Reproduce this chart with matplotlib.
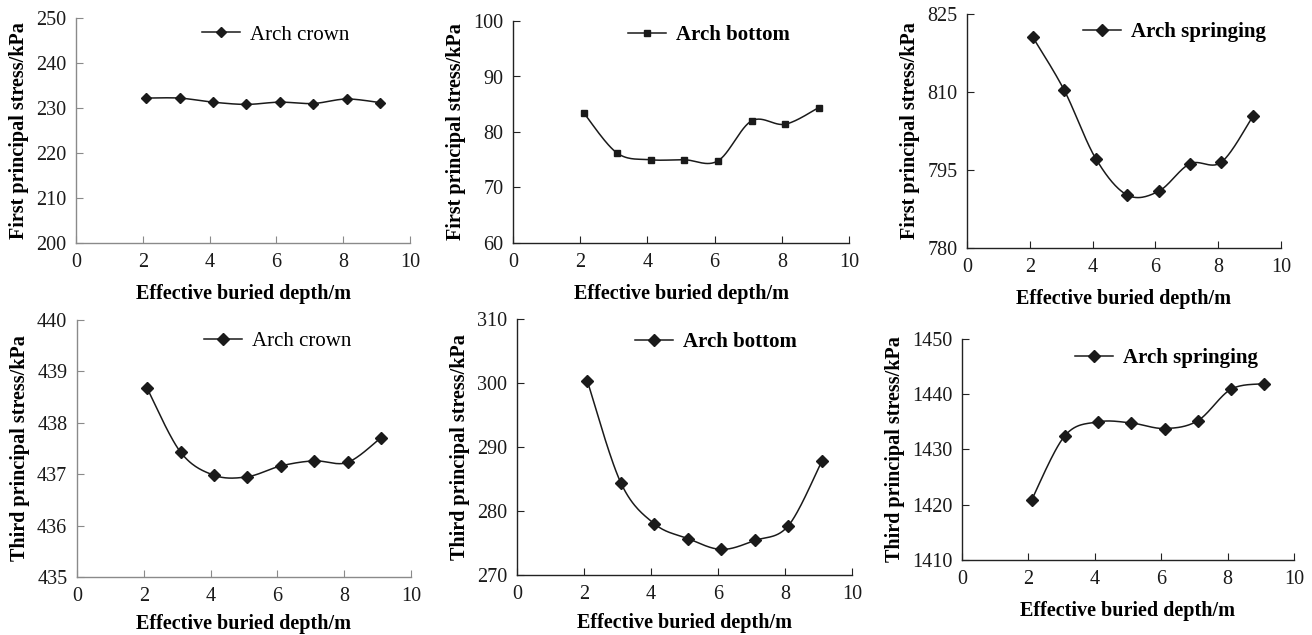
import numpy as np
import matplotlib
matplotlib.use('Agg')
from matplotlib import pyplot as plt

plt.rcParams['font.family'] = ['Liberation Serif', 'DejaVu Serif']

W, H = 1312, 635

# ----- data ----- #
depth = [2.1, 3.1, 4.1, 5.1, 6.1, 7.1, 8.1, 9.1]

crown_first = [232.2, 232.2, 231.3, 230.8, 231.3, 231.0, 232.0, 231.2]
bottom_first = [83.5, 76.2, 75.0, 75.0, 74.8, 82.0, 81.4, 84.4]
spring_first = [820.5, 810.3, 797.2, 790.2, 790.9, 796.2, 796.5, 805.3]
crown_third = [438.67, 437.43, 436.98, 436.95, 437.16, 437.26, 437.23, 437.71]
bottom_third = [300.3, 284.4, 278.0, 275.7, 274.0, 275.4, 277.7, 287.8]
spring_third = [1420.9, 1432.5, 1435.0, 1434.8, 1433.8, 1435.2, 1440.9, 1441.9]

ylabel_first = 'First principal stress/kPa'
ylabel_third = 'Third principal stress/kPa'
xlabel = 'Effective buried depth/m'


def smooth(x, y, n=30):
    # Excel-like smoothed line (Bezier through points)
    x = np.asarray(x, float)
    y = np.asarray(y, float)
    px = np.concatenate([[x[0]], x, [x[-1]]])
    py = np.concatenate([[y[0]], y, [y[-1]]])
    xs, ys = [], []
    t = np.linspace(0, 1, n)
    for i in range(1, len(px) - 2):
        p0 = np.array([px[i], py[i]])
        p3 = np.array([px[i + 1], py[i + 1]])
        c1 = p0 + (np.array([px[i + 1], py[i + 1]]) - np.array([px[i - 1], py[i - 1]])) / 6
        c2 = p3 - (np.array([px[i + 2], py[i + 2]]) - np.array([px[i], py[i]])) / 6
        b = ((1 - t) ** 3)[:, None] * p0 + (3 * (1 - t) ** 2 * t)[:, None] * c1 \
            + (3 * (1 - t) * t ** 2)[:, None] * c2 + (t ** 3)[:, None] * p3
        xs.extend(b[:, 0])
        ys.extend(b[:, 1])
    return xs, ys


# (values, ylim, yticks, ylabel, legend, bold legend, marker, msize, axes px, legend px, axis colour, xlabelpad)
panels = [
    (crown_first, (200, 250), [200, 210, 220, 230, 240, 250], ylabel_first, 'Arch crown', False, 'D', 5,
     (76, 410, 18, 243), (202, 35), '#8a8a8a', 9),
    (bottom_first, (60, 100), [60, 70, 80, 90, 100], ylabel_first, 'Arch bottom', True, 's', 5,
     (513, 849, 21, 243), (628, 35), '#222222', 9),
    (spring_first, (780, 825), [780, 795, 810, 825], ylabel_first, 'Arch springing', True, 'D', 6.5,
     (967, 1281, 14, 248), (1083, 32), '#222222', 9),
    (crown_third, (435, 440), [435, 436, 437, 438, 439, 440], ylabel_third, 'Arch crown', False, 'D', 6.5,
     (77, 411, 320, 577), (204, 341), '#8a8a8a', 6),
    (bottom_third, (270, 310), [270, 280, 290, 300, 310], ylabel_third, 'Arch bottom', True, 'D', 6.5,
     (517, 852, 319, 575), (635, 342), '#222222', 7),
    (spring_third, (1410, 1450), [1410, 1420, 1430, 1440, 1450], ylabel_third, 'Arch springing', True, 'D', 6.5,
     (962, 1294, 339, 560), (1075, 358), '#222222', 9),
]

fig = plt.figure(figsize=(W / 100, H / 100), dpi=100)

for vals, ylim, yticks, ylab, leg, legbold, mk, ms, (l, r, t, b), (lx, ly), acol, xpad in panels:
    ax = fig.add_axes([l / W, 1 - b / H, (r - l) / W, (b - t) / H])
    sx, sy = smooth(depth, vals)
    ax.plot(sx, sy, color='#1a1a1a', linewidth=1.1)
    ax.plot(depth, vals, linestyle='none', marker=mk, markersize=ms, color='#1a1a1a')
    # legend proxy
    ax.plot([], [], color='#1a1a1a', linewidth=1.1, marker=mk, markersize=ms, label=leg)

    ax.set_xlim(0, 10)
    ax.set_ylim(*ylim)
    ax.set_xticks([0, 2, 4, 6, 8, 10])
    ax.set_yticks(yticks)
    for s in ['top', 'right']:
        ax.spines[s].set_visible(False)
    for s in ['left', 'bottom']:
        ax.spines[s].set_color(acol)
        ax.spines[s].set_linewidth(1.0)
    ax.tick_params(direction='in', length=5, color=acol, labelsize=14.5, labelcolor='#1a1a1a', pad=7)
    ax.set_ylabel(ylab, fontsize=14.5, fontweight='bold', labelpad=5)
    ax.set_xlabel(xlabel, fontsize=14.5, fontweight='bold', labelpad=xpad)

    lg = ax.legend(loc='center left', bbox_to_anchor=(lx / W, 1 - ly / H), bbox_transform=fig.transFigure,
                   frameon=False, borderpad=0, borderaxespad=0, handlelength=1.8, handletextpad=0.5,
                   prop={'size': 15, 'weight': 'bold' if legbold else 'normal'})

fig.savefig('out.png', dpi=100, facecolor='white')
